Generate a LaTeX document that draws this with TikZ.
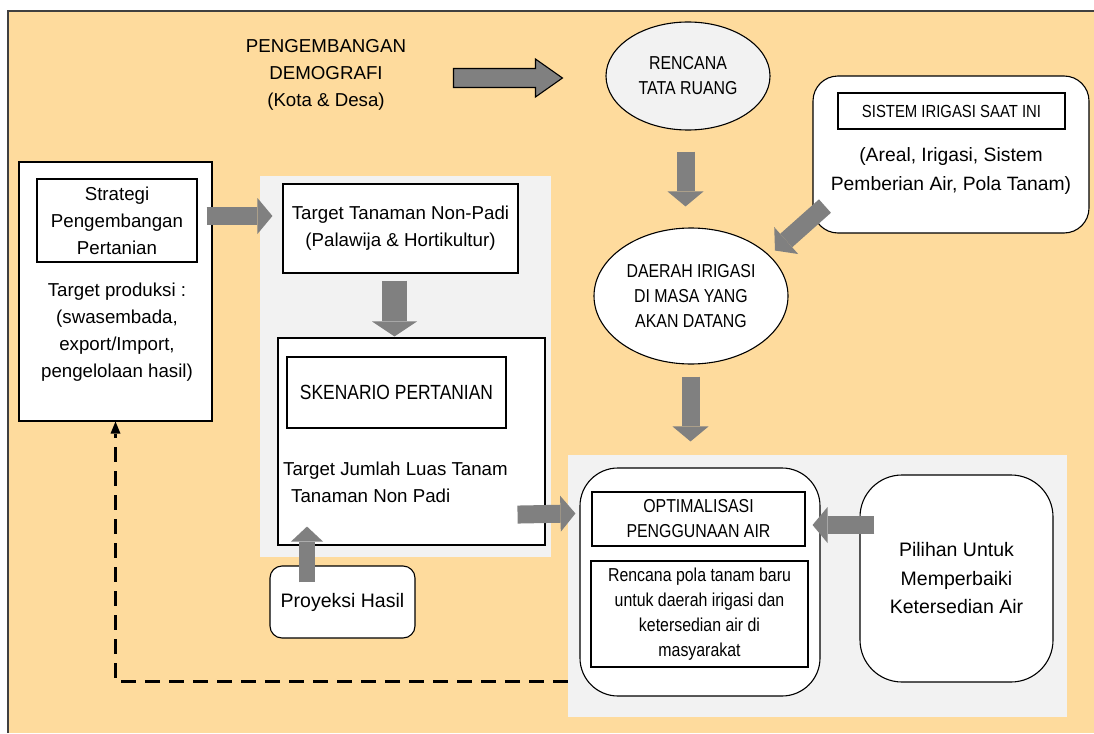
\documentclass[tikz,border=0pt]{standalone}
\usepackage{fontspec}
\setmainfont{Liberation Sans}
\newfontfamily\capsfont[FakeStretch=0.85]{Liberation Sans}
\usetikzlibrary{shapes.geometric, arrows.meta, calc}

\definecolor{peach}{RGB}{254,219,157}
\definecolor{panelgray}{RGB}{242,242,242}
\definecolor{arrowgray}{RGB}{128,128,128}
\definecolor{framegray}{RGB}{64,64,64}

\tikzset{
  plainbox/.style={draw=black, line width=1.1pt, fill=white, inner sep=0pt},
  roundbox/.style={plainbox, rounded corners=#1},
  oval/.style={ellipse, draw=black, line width=1.1pt, inner sep=0pt},
  panel/.style={fill=panelgray, draw=none, inner sep=0pt},
  bodytext/.style={font=\fontsize{18.7}{27}\selectfont, align=center, inner sep=0pt},
  capstext/.style={font=\capsfont\fontsize{18.7}{25}\selectfont, align=center, inner sep=0pt},
  blockarrow/.style={draw=arrowgray, line width=18pt, -{Triangle[length=15pt, width=36pt, line width=0pt]}},
  outlinearrow/.style={draw=black, line width=1.1pt, fill=arrowgray, line join=miter},
  feedback/.style={line width=3pt, dash pattern=on 15pt off 9pt, -{Triangle[length=12pt, width=10pt, line width=0pt]}}
}

\begin{document}
\begin{tikzpicture}[x=1pt,y=-1pt]
    \useasboundingbox (0,0) rectangle (1094,733);

    %Shape: Rectangle (background)
    \fill[peach] (8,11) rectangle (1094,733);
    \draw[framegray, line width=1.2pt] (8,733) -- (8,11) -- (1094,11);

    %Shape: Panels
    \node[panel, minimum width=291pt, minimum height=381pt] (mpanel) at (405.5,366.5) {};
    \node[panel, minimum width=499pt, minimum height=262pt] (rpanel) at (817.5,586) {};

    % Text Node
    \node[bodytext] (demografi) at (326,75) {PENGEMBANGAN\\DEMOGRAFI\\(Kota \& Desa)};
    %Shape: Ellipse
    \node[oval, capstext, fill=panelgray, minimum width=164pt, minimum height=108pt] (rencana) at (688,76) {RENCANA\\TATA RUANG};
    %Shape: Ellipse
    \node[oval, capstext, fill=white, minimum width=194pt, minimum height=136pt] (daerah) at (691,296) {DAERAH IRIGASI\\DI MASA YANG\\AKAN DATANG};

    %Shape: Rounded Rectangle
    \node[roundbox=25pt, minimum width=276pt, minimum height=157pt] (sistem) at (951,154.5) {};
    \node[plainbox, minimum width=227pt, minimum height=36pt, font=\capsfont\fontsize{17.5}{20}\selectfont] (sistemtitle) at (951.5,111) {SISTEM IRIGASI SAAT INI};
    % Text Node
    \node[bodytext, font=\fontsize{19.3}{29}\selectfont] (sistemdesc) at (951,171.5) {(Areal, Irigasi, Sistem\\Pemberian Air, Pola Tanam)};

    %Shape: Rectangle
    \node[plainbox, minimum width=193pt, minimum height=259pt] (strategi) at (115.5,291.5) {};
    \node[plainbox, bodytext, minimum width=160pt, minimum height=83pt] (strategititle) at (117,220.5) {Strategi\\Pengembangan\\Pertanian};
    % Text Node
    \node[bodytext] (produksi) at (117,332.5) {Target produksi :\\(swasembada,\\export/Import,\\pengelolaan hasil)};

    %Shape: Rectangle
    \node[plainbox, bodytext, minimum width=235pt, minimum height=89pt] (target) at (400.5,228.5) {Target Tanaman Non-Padi\\(Palawija \& Hortikultur)};
    %Shape: Rectangle
    \node[plainbox, minimum width=267pt, minimum height=207pt] (skenario) at (411.5,441.5) {};
    \node[plainbox, minimum width=219pt, minimum height=71pt, font=\capsfont\fontsize{20.5}{25}\selectfont] (skenariotitle) at (396.5,392.5) {SKENARIO PERTANIAN};
    % Text Node
    \node[bodytext, align=left, anchor=west] (luas) at (283,482) {Target Jumlah Luas Tanam\\\hspace*{8pt}Tanaman Non Padi};
    %Shape: Rounded Rectangle
    \node[roundbox=12pt, bodytext, font=\fontsize{19.5}{27}\selectfont, minimum width=145pt, minimum height=72pt] (proyeksi) at (342.5,602) {Proyeksi Hasil};

    %Shape: Rounded Rectangle
    \node[roundbox=38pt, minimum width=240pt, minimum height=228pt] (opt) at (700,582) {};
    \node[plainbox, capstext, minimum width=213pt, minimum height=54pt] (opttitle) at (698.5,519) {OPTIMALISASI\\PENGGUNAAN AIR};
    \node[plainbox, capstext, minimum width=217pt, minimum height=106pt] (polatanam) at (699.5,614) {Rencana pola tanam baru\\untuk daerah irigasi dan\\ketersedian air di\\masyarakat};
    %Shape: Rounded Rectangle
    \node[roundbox=42pt, bodytext, font=\fontsize{19.5}{28.5}\selectfont, minimum width=193pt, minimum height=207pt] (pilihan) at (956.5,578.5) {Pilihan Untuk\\Memperbaiki\\Ketersedian Air};

    %Block Arrows
    \coordinate (demotail) at ($(rencana.west)+(-152,2)$);
    \draw[outlinearrow] (demotail) ++(0,-9.5) -- ++(82,0) -- ++(0,-9.5) -- ++(27,19) -- ++(-27,19) -- ++(0,-9.5) -- ++(-82,0) -- cycle;
    \draw[blockarrow] ($(rencana.south)+(-2.5,21)$) -- ($(daerah.north)+(-5.5,-21)$);
    \draw[blockarrow] ($(sistem.south west)+(12.5,-27.5)$) -- ($(daerah.north east)+(15,3)$);
    \draw[blockarrow] ($(daerah.south)+(-0.5,12)$) -- ($(opt.north)+(-9.5,-26)$);
    \draw[blockarrow] ($(strategititle.east)+(9,-4.5)$) -- ($(target.west)+(-10,-12.5)$);
    \draw[blockarrow, line width=25pt, -{Triangle[length=15pt, width=45pt, line width=0pt]}] ($(target.south)+(-6,7)$) -- ($(skenario.north)+(-17,-1)$);
    \draw[blockarrow, line width=16pt, -{Triangle[length=15pt, width=32pt, line width=0pt]}] ($(proyeksi.north)+(-35.5,17)$) -- ($(skenario.south)+(-104.5,-19)$);
    \draw[blockarrow] ($(skenario.south east)+(-28,-31)$) -- ($(opt.north west)+(-4,46)$);
    \draw[blockarrow] ($(pilihan.west)+(15,-53.5)$) -- ($(opt.east)+(-8,-57)$);

    %Straight Lines (dashed feedback)
    \draw[feedback] ($(rpanel.south west)+(0,-36)$) -| (strategi.south);

\end{tikzpicture}
\end{document}
